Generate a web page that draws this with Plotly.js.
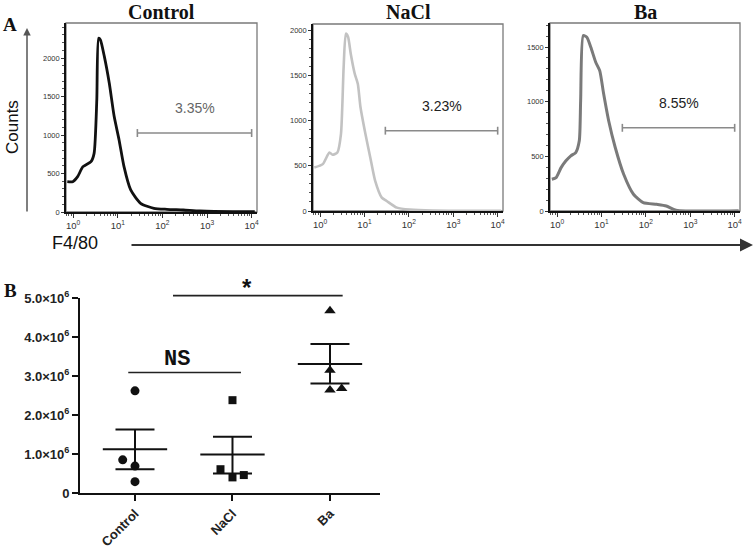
<!DOCTYPE html>
<html><head><meta charset="utf-8">
<script src="https://cdn.plot.ly/plotly-3.0.1.min.js"></script>
<style>html,body{margin:0;padding:0;background:#fff}</style>
</head><body><div id="chart" style="width:756px;height:550px"></div>
<script>
// ---------- Panel A: flow cytometry histograms ----------
const panelTitles = ['Control', 'NaCl', 'Ba'];

const ctrlF4 = [0.74, 0.98, 1.26, 1.66, 2.51, 2.95, 3.39, 3.72, 4.07, 5.01, 6.46, 8.32, 10.7, 13.8, 19.5, 32.4, 64.6, 126, 295, 692, 3802, 11750];
const ctrlCounts = [394, 394, 459, 589, 654, 762, 1455, 2256, 2238, 2018, 1672, 1239, 936, 589, 286, 113, 48, 35, 26, 13, 4, 4];

const naclF4 = [0.74, 1.15, 1.62, 1.91, 2.45, 2.95, 3.39, 3.80, 4.27, 4.90, 6.03, 7.08, 8.13, 10.5, 13.5, 17.4, 24.5, 31.6, 53.7, 105, 347, 12000];
const naclCounts = [481, 519, 648, 622, 648, 852, 1592, 1963, 1926, 1741, 1519, 1407, 1148, 852, 593, 333, 148, 111, 37, 15, 4, 2];

const baF4 = [0.76, 0.95, 1.23, 1.58, 2.04, 2.63, 3.16, 3.39, 3.89, 4.68, 5.75, 7.41, 9.12, 11.2, 14.5, 20.4, 31.6, 52.5, 87.1, 174, 288, 479, 12300];
const baCounts = [291, 306, 397, 459, 505, 535, 642, 1009, 1605, 1590, 1498, 1361, 1284, 1070, 826, 581, 336, 153, 76, 61, 46, 8, 2];

const gatePercent = ['3.35%', '3.23%', '8.55%'];
const gateLow = [27.5, 29.5, 29.5];
const gateHigh = [10000, 10000, 10000];
const gateLevel = [1026, 889, 761];

const histYTicks = [[0, 500, 1000, 1500, 2000], [0, 500, 1000, 1500, 2000], [0, 500, 1000, 1500]];
const logTickVals = [1, 10, 100, 1000, 10000];
const logTickText = ['10<sup>0</sup>', '10<sup>1</sup>', '10<sup>2</sup>', '10<sup>3</sup>', '10<sup>4</sup>'];

// ---------- Panel B: cell numbers ----------
const groups = ['Control', 'NaCl', 'Ba'];
const ctrlCells = [2.62e6, 0.85e6, 0.69e6, 0.29e6];
const naclCells = [2.38e6, 0.61e6, 0.40e6, 0.46e6];
const baCells = [4.67e6, 3.15e6, 2.64e6, 2.68e6];
const groupMean = [1.12e6, 0.99e6, 3.31e6];
const semUpper = [1.63e6, 1.44e6, 3.82e6];
const semLower = [0.61e6, 0.50e6, 2.81e6];
const cellTickVals = [0, 1e6, 2e6, 3e6, 4e6, 5e6];
const cellTickText = ['0', '1.0×10<sup>6</sup>', '2.0×10<sup>6</sup>', '3.0×10<sup>6</sup>', '4.0×10<sup>6</sup>', '5.0×10<sup>6</sup>'];
const nsLevel = 3.09e6;

// ---------- layout helpers (styles / positions, not data) ----------
const W = 756, H = 550;
const px = v => v / W, py = v => 1 - v / H;
const dodge = [[0, -0.126, 0, 0], [0, -0.123, 0, 0.116], [0, 0, 0, 0.12]];
const histRanges = [2455, 2070, 1720];
const histDomX = [[66, 257], [313, 503], [550, 740]];
const histDomY = [[212, 23], [211, 24], [211, 23]];
const curveColors = ['#111111', '#c2c2c2', '#7a7a7a'];
const curveWidths = [2.8, 2.6, 3.0];
const pctColors = ['#666666', '#222222', '#222222'];
const SANS = 'Liberation Sans, Arial, sans-serif';
const SERIF = 'Liberation Serif, Times New Roman, serif';

const curves = [[ctrlF4, ctrlCounts], [naclF4, naclCounts], [baF4, baCounts]];
const traces = [];
const layout = {
  width: W, height: H,
  margin: {l: 0, r: 0, t: 0, b: 0},
  paper_bgcolor: '#fff', plot_bgcolor: '#fff',
  showlegend: false,
  font: {family: SANS, color: '#222'},
  shapes: [], annotations: []
};

// minor ticks for log axes
const minorLog = [];
[0.1, 1, 10, 100, 1000].forEach(d => { for (let k = 2; k <= 9; k++) minorLog.push(d * k); });

for (let i = 0; i < 3; i++) {
  const xa = i === 0 ? 'x' : 'x' + (i + 1);
  const ya = i === 0 ? 'y' : 'y' + (i + 1);
  const xKey = i === 0 ? 'xaxis' : 'xaxis' + (i + 1);
  const yKey = i === 0 ? 'yaxis' : 'yaxis' + (i + 1);
  traces.push({
    type: 'scatter', mode: 'lines', x: curves[i][0], y: curves[i][1],
    xaxis: xa, yaxis: ya,
    line: {color: curveColors[i], width: curveWidths[i], shape: 'spline', smoothing: 0.6},
    hoverinfo: 'skip'
  });
  // gate bar with end caps
  const cap = histRanges[i] * 0.021;
  const g = gateLevel[i];
  traces.push({
    type: 'scatter', mode: 'lines', xaxis: xa, yaxis: ya,
    x: [gateLow[i], gateHigh[i], null, gateLow[i], gateLow[i], null, gateHigh[i], gateHigh[i]],
    y: [g, g, null, g - cap, g + cap, null, g - cap, g + cap],
    line: {color: '#8a8a8a', width: 1.6}, hoverinfo: 'skip'
  });
  layout[xKey] = {
    type: 'log', range: [-0.16, 4.12], anchor: ya,
    domain: [px(histDomX[i][0]), px(histDomX[i][1])],
    tickmode: 'array', tickvals: logTickVals, ticktext: logTickText,
    ticks: 'outside', ticklen: 4, tickwidth: 1, tickcolor: '#333',
    tickfont: {family: SANS, size: 9.5, color: '#333'},
    showline: true, linecolor: '#111', linewidth: 1.8,
    showgrid: false, zeroline: false,
    minor: {tickmode: 'array', tickvals: minorLog, ticks: 'outside', ticklen: 2, tickwidth: 1, tickcolor: '#555'}
  };
  layout[yKey] = {
    range: [0, histRanges[i]], anchor: xa,
    domain: [py(histDomY[i][0]), py(histDomY[i][1])],
    tickmode: 'array', tickvals: histYTicks[i],
    ticks: 'outside', ticklen: 3, tickwidth: 1, tickcolor: '#333',
    tickfont: {family: SANS, size: 7.5, color: '#333'},
    showline: true, linecolor: '#111', linewidth: 1.8,
    showgrid: false, zeroline: false,
    minor: {dtick: 100, ticks: 'outside', ticklen: 2, tickwidth: 1, tickcolor: '#555'}
  };
  // gray frame
  layout.shapes.push({
    type: 'rect', xref: xa + ' domain', yref: ya + ' domain', x0: 0, x1: 1, y0: 0, y1: 1,
    line: {color: '#7a7a7a', width: 1.3}, layer: 'below'
  });
  // panel title
  layout.annotations.push({
    text: '<b>' + panelTitles[i] + '</b>', xref: 'paper', yref: 'paper',
    x: px((histDomX[i][0] + histDomX[i][1]) / 2), y: py(12), showarrow: false,
    xanchor: 'center', yanchor: 'middle',
    font: {family: SERIF, size: 20, color: '#111'}
  });
  // percent label
  layout.annotations.push({
    text: gatePercent[i], xref: xa, yref: ya,
    x: (Math.log10(gateLow[i]) + Math.log10(gateHigh[i])) / 2, y: gateLevel[i],
    yshift: 25, showarrow: false, xanchor: 'center', yanchor: 'middle',
    font: {family: SANS, size: 14, color: pctColors[i]}
  });
}

// Panel A labels and arrows
layout.annotations.push(
  {text: '<b>A</b>', xref: 'paper', yref: 'paper', x: px(10), y: py(25), showarrow: false,
   xanchor: 'center', yanchor: 'middle', font: {family: SERIF, size: 19, color: '#111'}},
  {text: 'Counts', xref: 'paper', yref: 'paper', x: px(12), y: py(127), textangle: -90,
   xanchor: 'center', yanchor: 'middle', showarrow: false, font: {family: SANS, size: 17, color: '#111'}},
  {text: 'F4/80', xref: 'paper', yref: 'paper', x: px(75), y: py(243), showarrow: false,
   xanchor: 'center', yanchor: 'middle', font: {family: SANS, size: 18, color: '#111'}},
  {text: '', xref: 'paper', yref: 'paper', x: px(753), y: py(245), ax: -623, ay: 0,
   showarrow: true, arrowhead: 2, arrowsize: 1.3, arrowwidth: 2, arrowcolor: '#333'},
  {text: '', xref: 'paper', yref: 'paper', x: px(27), y: py(28), ax: 0, ay: 185,
   showarrow: true, arrowhead: 2, arrowsize: 1, arrowwidth: 1.5, arrowcolor: '#555'}
);

// ---------- Panel B ----------
const meanHalf = 0.33, capHalf = 0.2;
const ex = [], ey = [];
for (let i = 0; i < 3; i++) {
  ex.push(i - meanHalf, i + meanHalf, null, i - capHalf, i + capHalf, null, i - capHalf, i + capHalf, null, i, i, null);
  ey.push(groupMean[i], groupMean[i], null, semUpper[i], semUpper[i], null, semLower[i], semLower[i], null, semLower[i], semUpper[i], null);
}
traces.push({type: 'scatter', mode: 'lines', x: ex, y: ey, xaxis: 'x4', yaxis: 'y4',
  line: {color: '#111', width: 2}, hoverinfo: 'skip'});

const cellSets = [ctrlCells, naclCells, baCells];
const symbols = ['circle', 'square', 'triangle-up'];
const sizes = [9, 8, 10];
cellSets.forEach((vals, i) => {
  traces.push({
    type: 'scatter', mode: 'markers', xaxis: 'x4', yaxis: 'y4',
    x: vals.map((v, k) => i + dodge[i][k]), y: vals, name: groups[i],
    marker: {symbol: symbols[i], size: sizes[i], color: '#111'}
  });
});

layout.xaxis4 = {
  domain: [px(80), px(380)], anchor: 'y4', range: [-0.564, 2.513],
  tickmode: 'array', tickvals: [0, 1, 2], ticktext: groups, tickangle: -45,
  ticks: 'outside', ticklen: 6, tickwidth: 2, tickcolor: '#111',
  tickfont: {family: SANS, size: 13, color: '#222', weight: 'bold'},
  showline: true, linecolor: '#111', linewidth: 2, showgrid: false, zeroline: false
};
layout.yaxis4 = {
  domain: [py(493), py(298)], anchor: 'x4', range: [0, 5e6],
  tickmode: 'array', tickvals: cellTickVals, ticktext: cellTickText,
  ticks: 'outside', ticklen: 6, tickwidth: 2, tickcolor: '#111',
  tickfont: {family: SANS, size: 13, color: '#222', weight: 'bold'},
  showline: true, linecolor: '#111', linewidth: 2, showgrid: false, zeroline: false
};

layout.shapes.push(
  {type: 'line', xref: 'x4', yref: 'y4', x0: -0.069, x1: 1.087, y0: nsLevel, y1: nsLevel,
   line: {color: '#222', width: 1.6}},
  {type: 'line', xref: 'x4', yref: 'y4 domain', x0: 0.39, x1: 2.13, y0: 1.012, y1: 1.012,
   line: {color: '#222', width: 1.6}}
);
layout.annotations.push(
  {text: '<b>B</b>', xref: 'paper', yref: 'paper', x: px(10), y: py(290), showarrow: false,
   xanchor: 'center', yanchor: 'middle', font: {family: SERIF, size: 19, color: '#111'}},
  {text: '<b>NS</b>', xref: 'x4', yref: 'y4', x: 0.43, y: nsLevel, yshift: 13, showarrow: false,
   xanchor: 'center', yanchor: 'middle', font: {family: 'Liberation Mono, monospace', size: 22, color: '#111'}},
  {text: '<b>*</b>', xref: 'x4', yref: 'y4 domain', x: 1.15, y: 1.012, yshift: -7, showarrow: false,
   xanchor: 'center', yanchor: 'bottom', font: {family: SANS, size: 24, color: '#111'}}
);

Plotly.newPlot('chart', traces, layout, {staticPlot: true, displayModeBar: false});
</script>
</body></html>
